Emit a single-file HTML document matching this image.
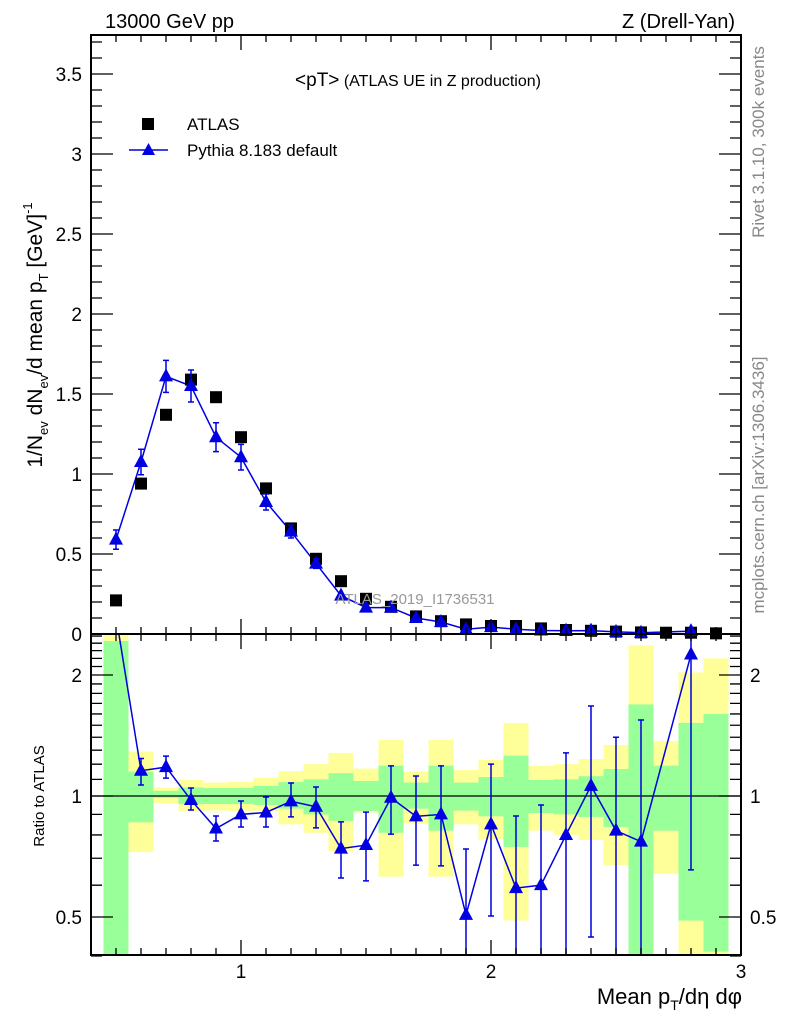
<!DOCTYPE html>
<html><head><meta charset="utf-8"><style>
body{margin:0;background:#fff;}
svg{display:block;font-family:"Liberation Sans",sans-serif;}
</style></head><body>
<svg id="chart" width="786" height="1024" viewBox="0 0 786 1024" xmlns="http://www.w3.org/2000/svg">
<g id="bands"></g>
<g id="marks"></g>
<g id="axes"></g>
<text x="105" y="28" font-size="20">13000 GeV pp</text>
<text x="735" y="28" font-size="20" text-anchor="end">Z (Drell-Yan)</text>
<text x="418" y="86" font-size="16" text-anchor="middle"><tspan font-size="19">&lt;pT&gt;</tspan> (ATLAS UE in Z production)</text>
<rect x="142" y="118" width="12" height="12" fill="#000"/>
<text x="187" y="130" font-size="17">ATLAS</text>
<line x1="129" y1="150" x2="168" y2="150" stroke="#0000e0" stroke-width="1.5"/>
<polygon points="148.5,143 142,155 155,155" fill="#0000e0"/>
<text x="187" y="156" font-size="17">Pythia 8.183 default</text>
<text x="415" y="604" font-size="15" fill="#999" text-anchor="middle">ATLAS_2019_I1736531</text>
<text transform="translate(764,142) rotate(-90)" font-size="17" fill="#888" text-anchor="middle">Rivet 3.1.10,  300k events</text>
<text transform="translate(764,485) rotate(-90)" font-size="17" fill="#888" text-anchor="middle">mcplots.cern.ch [arXiv:1306.3436]</text>
<text transform="translate(42,335) rotate(-90)" font-size="21" text-anchor="middle">1/N<tspan font-size="13" dy="6">ev</tspan><tspan dy="-6"> dN</tspan><tspan font-size="13" dy="6">ev</tspan><tspan dy="-6">/d mean p</tspan><tspan font-size="13" dy="6">T</tspan><tspan dy="-6"> [GeV]</tspan><tspan font-size="13" dy="-10">-1</tspan></text>
<text transform="translate(44,796) rotate(-90)" font-size="15" text-anchor="middle">Ratio to ATLAS</text>
<text x="742" y="1004" font-size="22" text-anchor="end">Mean p<tspan font-size="14" dy="6">T</tspan><tspan dy="-6">/dη dφ</tspan></text>
</svg>
<script>
const binCenters=[0.5,0.6,0.7,0.8,0.9,1.0,1.1,1.2,1.3,1.4,1.5,1.6,1.7,1.8,1.9,2.0,2.1,2.2,2.3,2.4,2.5,2.6,2.7,2.8,2.9];
const atlasVals=[0.21,0.94,1.37,1.59,1.48,1.23,0.91,0.66,0.47,0.33,0.22,0.17,0.11,0.08,0.06,0.05,0.05,0.035,0.025,0.02,0.015,0.01,0.008,0.008,0.004];
const mcVals=[0.59,1.075,1.61,1.55,1.23,1.105,0.825,0.64,0.44,0.24,0.165,0.165,0.10,0.075,0.03,0.043,0.03,0.022,0.02,0.021,0.013,0.008,null,0.018,null];
const mcErr=[0.06,0.08,0.1,0.1,0.09,0.08,0.05,0.04,0.03,0.02,0.015,0.015,0.01,0.01,0.01,0.01,0.01,0.01,0.01,0.01,0.01,0.01,null,0.01,null];
const ratioVals=[2.8,1.156,1.18,0.977,0.83,0.90,0.91,0.97,0.94,0.74,0.755,0.99,0.89,0.90,0.506,0.85,0.59,0.60,0.80,1.06,0.82,0.77,null,2.25,null];
const ratioHi=[null,1.24,1.257,1.047,0.892,0.972,0.994,1.077,1.053,0.862,0.912,1.188,1.121,1.188,0.738,1.20,0.892,0.95,1.28,1.675,1.40,1.545,null,3.0,null];
const ratioLo=[null,1.065,1.108,0.923,0.773,0.837,0.837,0.887,0.833,0.625,0.615,0.804,0.673,0.67,0.3,0.503,0.3,0.3,0.3,0.446,0.3,0.3,null,0.655,null];
const greenHi=[2.43,1.15,1.03,1.05,1.047,1.047,1.06,1.083,1.10,1.14,1.09,1.19,1.08,1.19,1.08,1.115,1.26,1.096,1.10,1.12,1.167,1.69,1.19,1.52,1.60];
const greenLo=[0.3,0.86,0.99,0.955,0.955,0.955,0.95,0.93,0.90,0.867,0.918,0.81,0.93,0.82,0.92,0.89,0.747,0.907,0.90,0.887,0.837,0.3,0.82,0.49,0.41];
const yellowHi=[2.6,1.29,1.05,1.096,1.08,1.085,1.11,1.154,1.20,1.28,1.17,1.38,1.15,1.38,1.16,1.23,1.52,1.19,1.20,1.236,1.34,2.37,1.37,2.03,2.20];
const yellowLo=[0.3,0.725,0.96,0.918,0.92,0.918,0.918,0.85,0.81,0.73,0.91,0.63,0.855,0.63,0.85,0.78,0.49,0.82,0.80,0.777,0.673,0.3,0.64,0.3,0.3];
const xTicks=[1,2,3];
const yTicks=[0,0.5,1,1.5,2,2.5,3,3.5];
const rTicks=[0.5,1,2];

const NS="http://www.w3.org/2000/svg";
const L=91,R=741,T=35,MID=634,B=955;
const X=v=>L+(v-0.4)*250;
const Y=v=>MID-v*160;
const RY=v=>796-121*Math.log2(v);
const clampR=v=>Math.max(MID,Math.min(B,RY(v)));
function mk(tag,parent,attrs){const e=document.createElementNS(NS,tag);for(const k in attrs)e.setAttribute(k,attrs[k]);parent.appendChild(e);return e;}
const bands=document.getElementById('bands'),marks=document.getElementById('marks'),axes=document.getElementById('axes');

binCenters.forEach((c,i)=>{
  const x0=X(c-0.05),w=X(c+0.05)-x0;
  const y1=clampR(yellowHi[i]),y2=clampR(yellowLo[i]);
  const yb=mk('rect',bands,{x:x0,y:y1,width:w,height:y2-y1,fill:'#ffff99'});
  
  
  const g1=clampR(greenHi[i]),g2=clampR(greenLo[i]);
  const gb=mk('rect',bands,{x:x0,y:g1,width:w,height:g2-g1,fill:'#99ff99'});
  
  
});
const one=mk('line',bands,{x1:L,x2:R,y1:RY(1),y2:RY(1),stroke:'#000','stroke-width':1.3});



const blue='#0000e0';
function tri(p,x,y){const t=mk('polygon',p,{points:`${x},${y-8} ${x-7},${y+5} ${x+7},${y+5}`,fill:blue});return t;}
let pts=[];binCenters.forEach((c,i)=>{if(mcVals[i]!=null)pts.push(X(c)+','+Y(mcVals[i]));});
const ml=mk('polyline',marks,{points:pts.join(' '),fill:'none',stroke:blue,'stroke-width':1.5});


binCenters.forEach((c,i)=>{
  const a=mk('rect',marks,{x:X(c)-6,y:Y(atlasVals[i])-6,width:12,height:12,fill:'#000'});
  
  
  if(mcVals[i]==null)return;
  const x=X(c),e=mcErr[i];
  if(e>0.02){
    const eb=mk('path',marks,{d:`M${x},${Y(mcVals[i]+e)}V${Y(mcVals[i]-e)}M${x-3},${Y(mcVals[i]+e)}h6M${x-3},${Y(mcVals[i]-e)}h6`,stroke:blue,'stroke-width':1.5,fill:'none'});
    
    
  }
  const t=tri(marks,x,Y(mcVals[i]));
  
  
});
const rc=document.createElementNS(NS,'clipPath');rc.id='rclip';mk('rect',rc,{x:L,y:MID,width:R-L,height:B-MID});marks.appendChild(rc);
const rg=mk('g',marks,{'clip-path':'url(#rclip)'});
pts=[];binCenters.forEach((c,i)=>{if(ratioVals[i]!=null)pts.push(X(c)+','+RY(ratioVals[i]));});
const rl=mk('polyline',rg,{points:pts.join(' '),fill:'none',stroke:blue,'stroke-width':1.5});


binCenters.forEach((c,i)=>{
  if(ratioVals[i]==null)return;const x=X(c);
  if(ratioHi[i]!=null){
    const h=RY(ratioHi[i]),l=RY(ratioLo[i]);
    const eb=mk('path',rg,{d:`M${x},${h}V${l}M${x-3},${h}h6M${x-3},${l}h6`,stroke:blue,'stroke-width':1.5,fill:'none'});
    
    
  }
  const t=tri(rg,x,RY(ratioVals[i]));
  
  
});
[[T,MID],[MID,B]].forEach(([t,b])=>{const f=mk('rect',axes,{x:L,y:t,width:R-L,height:b-t,fill:'none',stroke:'#000','stroke-width':2});

});
let d='';
for(let k=5;k<=30;k++){const v=k/10,x=X(v),maj=(k%10===0),len=maj?15:7;
  d+=`M${x},${T}v${len}M${x},${MID}v${-len}M${x},${MID}v${len}M${x},${B}v${-len}`;}
for(let k=1;k<=37;k++){const v=k/10,y=Y(v),len=(k%5===0)?22:11;d+=`M${L},${y}h${len}M${R},${y}h${-len}`;}
const rminor=[0.4,0.6,0.7,0.8,0.9,1.1,1.2,1.3,1.4,1.5,1.6,1.7,1.8,1.9,2.1,2.2,2.3,2.4,2.5];
rminor.forEach(v=>{const y=RY(v);d+=`M${L},${y}h11M${R},${y}h-11`;});
rTicks.forEach(v=>{const y=RY(v);d+=`M${L},${y}h22M${R},${y}h-22`;});
const tk=mk('path',axes,{d:d,stroke:'#000','stroke-width':1.3,fill:'none'});


xTicks.forEach(v=>{const t=mk('text',axes,{x:X(v),y:978,'font-size':19,'text-anchor':'middle'});t.textContent=v;

});
yTicks.forEach(v=>{const t=mk('text',axes,{x:82,y:Y(v)+7,'font-size':19,'text-anchor':'end'});t.textContent=v;

});
rTicks.forEach(v=>{[[82,'end'],[750,'start']].forEach(([x,a])=>{const t=mk('text',axes,{x:x,y:RY(v)+7,'font-size':19,'text-anchor':a});t.textContent=v;

});});
</script>
</body></html>
